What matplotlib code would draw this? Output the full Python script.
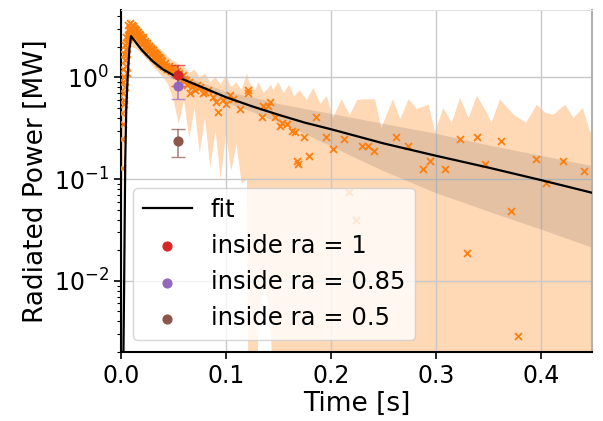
import matplotlib
matplotlib.use('Agg')
import matplotlib.pyplot as plt
import numpy as np

# fit curve
fit_t = [0.0, 0.003, 0.004, 0.005, 0.0065, 0.008, 0.0095, 0.015, 0.02, 0.03, 0.04, 0.05,
         0.075, 0.1, 0.125, 0.15, 0.175, 0.2, 0.25, 0.3, 0.35, 0.4, 0.45]
fit_y = [1e-5, 0.01, 0.15, 0.5, 1.1, 1.9, 2.55, 2.15, 1.85, 1.45, 1.2, 1.05,
         0.82, 0.64, 0.52, 0.43, 0.36, 0.31, 0.225, 0.17, 0.13, 0.098, 0.073]
fit_hi = [1e-5, 0.012, 0.17, 0.55, 1.2, 2.0, 2.65, 2.22, 1.93, 1.53, 1.28, 1.13,
          0.9, 0.72, 0.64, 0.55, 0.49, 0.44, 0.35, 0.28, 0.215, 0.17, 0.134]
fit_lo = [1e-5, 0.008, 0.13, 0.45, 1.0, 1.8, 2.45, 2.07, 1.77, 1.37, 1.12, 0.97,
          0.74, 0.56, 0.46, 0.36, 0.28, 0.21, 0.12, 0.073, 0.048, 0.032, 0.021]

# measurement uncertainty band
band_t = [0.0, 0.002, 0.004, 0.006, 0.008, 0.010, 0.015, 0.020, 0.025, 0.030, 0.035,
          0.040, 0.045, 0.050, 0.055, 0.060, 0.065, 0.070, 0.075, 0.080, 0.085, 0.090,
          0.095, 0.100, 0.105, 0.110, 0.115, 0.120, 0.122, 0.128, 0.131, 0.136, 0.143,
          0.145, 0.150, 0.155, 0.160, 0.165, 0.170, 0.177, 0.183, 0.190, 0.196, 0.202,
          0.210, 0.218, 0.225, 0.231, 0.242, 0.248, 0.259, 0.266, 0.274, 0.282, 0.293,
          0.299, 0.307, 0.315, 0.323, 0.331, 0.339, 0.346, 0.353, 0.361, 0.374, 0.386,
          0.396, 0.404, 0.412, 0.423, 0.431, 0.440, 0.447, 0.450]
band_hi = [0.2, 1.5, 2.5, 3.3, 3.8, 3.6, 3.2, 2.8, 2.5, 2.2, 2.0,
           1.8, 1.6, 1.45, 1.35, 1.3, 1.1, 1.2, 1.0, 1.1, 0.9, 1.0,
           0.85, 1.05, 0.8, 0.9, 0.75, 1.1, 0.9, 0.75, 0.9, 0.7, 0.85,
           0.75, 0.9, 0.7, 0.85, 0.65, 0.75, 0.6, 0.79, 0.55, 0.66, 0.40,
           0.61, 0.43, 0.6, 0.61, 0.61, 0.32, 0.61, 0.39, 0.61, 0.49, 0.54,
           0.29, 0.50, 0.36, 0.63, 0.40, 0.66, 0.5, 0.36, 0.61, 0.43, 0.36,
           0.54, 0.45, 0.43, 0.54, 0.40, 0.50, 0.29, 0.3]
band_lo = [0.03, 0.15, 0.6, 1.4, 2.0, 2.0, 1.9, 1.7, 1.5, 1.3, 1.15,
           1.0, 0.85, 0.6, 0.35, 0.6, 0.25, 0.5, 0.18, 0.4, 0.13, 0.3,
           0.1, 0.28, 0.12, 0.22, 0.09, 0.1, 1e-4, 1e-4, 0.004, 0.01, 0.004,
           1e-4, 1e-4, 1e-4, 1e-4, 1e-4, 1e-4, 1e-4, 1e-4, 1e-4, 1e-4, 1e-4,
           1e-4, 1e-4, 1e-4, 1e-4, 1e-4, 1e-4, 1e-4, 1e-4, 1e-4, 1e-4, 1e-4,
           1e-4, 1e-4, 1e-4, 1e-4, 1e-4, 1e-4, 1e-4, 1e-4, 1e-4, 1e-4, 1e-4,
           1e-4, 1e-4, 1e-4, 1e-4, 1e-4, 1e-4, 1e-4, 1e-4]

# measured points
meas_t = [0.0005, 0.001, 0.0012, 0.0015, 0.0018, 0.002, 0.0025, 0.003, 0.0035, 0.004,
          0.0045, 0.005, 0.0055, 0.006, 0.0065, 0.007, 0.0075, 0.008, 0.0085, 0.009,
          0.0095, 0.010, 0.011, 0.012, 0.013, 0.014, 0.015, 0.016, 0.017, 0.018,
          0.019, 0.020, 0.021, 0.022, 0.023, 0.024, 0.025, 0.026, 0.027, 0.028,
          0.029, 0.030, 0.031, 0.032, 0.033, 0.034, 0.035, 0.036, 0.037, 0.038,
          0.039, 0.040, 0.042, 0.044, 0.046, 0.048, 0.050, 0.052, 0.055, 0.058,
          0.060, 0.063, 0.065, 0.068, 0.070, 0.075, 0.080, 0.088, 0.090, 0.092,
          0.107, 0.113, 0.121, 0.121, 0.134, 0.135, 0.140, 0.142, 0.147, 0.151,
          0.153, 0.158, 0.163, 0.166, 0.168, 0.169, 0.174, 0.179, 0.186, 0.195,
          0.202, 0.212, 0.217, 0.224, 0.230, 0.235, 0.241, 0.262, 0.273, 0.288,
          0.294, 0.309, 0.323, 0.330, 0.339, 0.347, 0.362, 0.371, 0.378, 0.395,
          0.405, 0.421, 0.441,
          0.0022, 0.0028, 0.0032, 0.0042, 0.0052, 0.0058, 0.0068, 0.0078, 0.0088, 0.0098,
          0.0105, 0.0115, 0.0125, 0.0135, 0.0145, 0.0155, 0.0165, 0.0175, 0.0185, 0.0195,
          0.0205, 0.0215, 0.0225, 0.0235, 0.0245, 0.0255, 0.0265, 0.0275, 0.0285, 0.0295,
          0.0305, 0.0315, 0.0325, 0.0335, 0.0345, 0.0355, 0.0365, 0.0375, 0.0385, 0.041,
          0.043, 0.045, 0.047, 0.049, 0.051, 0.053, 0.057, 0.059, 0.062, 0.066,
          0.072, 0.078, 0.083, 0.097, 0.100, 0.104]
meas_y = [0.13, 0.25, 0.45, 0.7, 1.2, 0.9, 0.6, 1.0, 1.5, 0.8,
          1.9, 1.3, 2.2, 1.7, 2.6, 2.4, 2.9, 2.7, 3.1, 2.8,
          3.0, 2.9, 3.2, 2.8, 3.0, 2.6, 2.8, 2.5, 2.7, 2.3,
          2.5, 2.2, 2.4, 2.0, 2.2, 1.9, 2.1, 1.8, 2.0, 1.7,
          1.9, 1.6, 1.8, 1.55, 1.7, 1.5, 1.6, 1.4, 1.55, 1.35,
          1.45, 1.3, 1.4, 1.2, 1.3, 1.15, 1.2, 1.05, 1.1, 0.95,
          0.96, 0.85, 0.9, 0.8, 0.75, 0.8, 0.72, 0.65, 0.58, 0.46,
          0.61, 0.49, 0.76, 0.71, 0.41, 0.52, 0.52, 0.57, 0.41, 0.33,
          0.36, 0.35, 0.30, 0.29, 0.15, 0.14, 0.26, 0.17, 0.41, 0.26,
          0.20, 0.25, 0.074, 0.04, 0.21, 0.21, 0.19, 0.26, 0.21, 0.125,
          0.15, 0.125, 0.25, 0.019, 0.26, 0.14, 0.236, 0.049, 0.0029, 0.157,
          0.091, 0.15, 0.12,
          0.35, 1.7, 0.55, 2.1, 2.5, 1.1, 3.3, 2.5, 3.4, 2.6,
          3.3, 2.9, 3.1, 2.7, 2.9, 2.6, 2.8, 2.4, 2.6, 2.3,
          2.5, 2.2, 2.3, 2.0, 2.2, 1.9, 2.05, 1.85, 1.95, 1.7,
          1.85, 1.6, 1.75, 1.55, 1.65, 1.45, 1.6, 1.4, 1.5, 1.35,
          1.3, 1.25, 1.2, 1.25, 1.1, 1.15, 1.0, 1.05, 0.95, 0.7,
          0.85, 0.7, 0.75, 0.6, 0.55, 0.68]

# powers inside given normalised radius
ra_labels = ['inside ra = 1', 'inside ra = 0.85', 'inside ra = 0.5']
ra_t = [0.054, 0.054, 0.054]
ra_y = [1.07, 0.82, 0.24]
ra_err = [0.25, 0.2, 0.075]
ra_colors = ['C3', 'C4', 'C5']

fig = plt.figure(figsize=(6.03, 4.21), dpi=100)
ax = fig.add_axes([0.2007, 0.164, 0.781, 0.812])

ax.fill_between(band_t, band_lo, band_hi, color='C1', alpha=0.3, lw=0, zorder=1)
ax.fill_between(fit_t, fit_lo, fit_hi, color='k', alpha=0.1, lw=0, zorder=2)
ax.scatter(meas_t, meas_y, marker='x', color='C1', s=25, lw=1.3, zorder=3)
ax.plot(fit_t, fit_y, color='k', lw=1.6, label='fit', zorder=4)

for t, y, e, c, lab in zip(ra_t, ra_y, ra_err, ra_colors, ra_labels):
    ax.errorbar(t, y, yerr=e, color=c, capsize=5, elinewidth=1.2, alpha=0.7, fmt='none', zorder=5)
    ax.scatter(t, y, color=c, s=40, label=lab, zorder=6)

ax.set_yscale('log')
ax.set_xlim(0, 0.4486)
ax.set_ylim(0.002, 4.6)
ax.set_xticks([0.0, 0.1, 0.2, 0.3, 0.4])
ax.set_xticklabels(['0.0', '0.1', '0.2', '0.3', '0.4'])
ax.grid(True, which='major', color='#c8c8c8', lw=1)
for g in ax.get_xgridlines() + ax.get_ygridlines():
    g.set_zorder(2.5)

ax.spines['left'].set_color('k')
ax.spines['bottom'].set_color('k')
ax.spines['left'].set_linewidth(1.5)
ax.spines['bottom'].set_linewidth(1.5)
ax.spines['top'].set_color('#e0e0e0')
ax.spines['right'].set_color('#b0b0b0')
ax.spines['right'].set_linewidth(1.5)
ax.tick_params(which='both', direction='out', labelsize=17)
ax.tick_params(which='major', length=5, width=1.2)
ax.tick_params(which='minor', length=3, width=0.8)

ax.set_xlabel('Time [s]', fontsize=19, labelpad=2)
ax.set_ylabel('Radiated Power [MW]', fontsize=19, labelpad=4)

leg = ax.legend(loc='lower left', fontsize=17.5, framealpha=0.8, borderaxespad=0.5,
                handlelength=2.0)
leg.set_zorder(10)

fig.savefig('out.png', dpi=100)
